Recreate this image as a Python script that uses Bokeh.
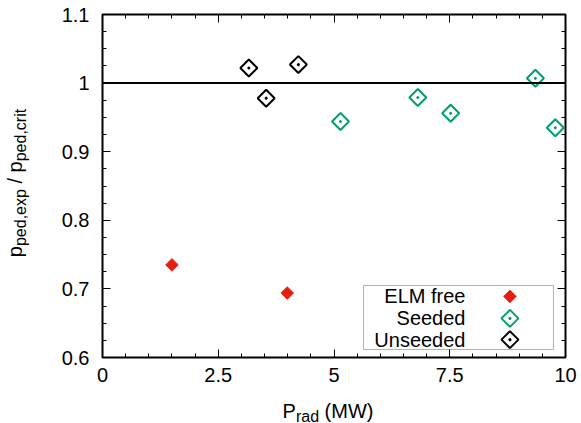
import numpy as np
from bokeh.plotting import figure
from bokeh.layouts import row, column
from bokeh.models import Range1d, FixedTicker, LinearAxis, Span, BoxAnnotation, Label
from bokeh.embed import file_html
from bokeh.resources import INLINE

# ---------------- data ----------------
elm_free_prad = [1.50, 3.99]
elm_free_ratio = [0.735, 0.694]
seeded_prad = [5.14, 6.81, 7.52, 9.35, 9.78]
seeded_ratio = [0.944, 0.979, 0.956, 1.007, 0.935]
unseeded_prad = [3.16, 3.535, 4.23]
unseeded_ratio = [1.022, 0.978, 1.027]
reference_ratio = 1.0

x_ticks = [0, 2.5, 5, 7.5, 10]
x_tick_labels = ["0", "2.5", "5", "7.5", "10"]
y_ticks = [0.6, 0.7, 0.8, 0.9, 1.0, 1.1]
y_tick_labels = ["0.6", "0.7", "0.8", "0.9", "1", "1.1"]
legend_labels = ["ELM free", "Seeded", "Unseeded"]

# ---------------- style ----------------
FONT = "Liberation Sans"
RED = "#e51e10"
GREEN = "#009e73"
TICK_FS = "20px"
LAB_FS = 20
SUB_FS = 16

x_minor = list(np.arange(0, 10.001, 0.5))
y_minor = list(np.round(np.arange(0.6, 1.1001, 0.025), 4))

CANVAS_W, CANVAS_H = 581, 423
FRAME_L, FRAME_R, FRAME_T, FRAME_B = 102, 565, 14, 357
YLAB_W = 36
MAIN_W, MAIN_H = CANVAS_W - YLAB_W, 397
XLAB_H = CANVAS_H - MAIN_H

p = figure(width=MAIN_W, height=MAIN_H, output_backend="svg", toolbar_location=None,
           x_range=Range1d(0, 10), y_range=Range1d(0.6, 1.1),
           min_border_left=FRAME_L - YLAB_W, min_border_right=CANVAS_W - FRAME_R,
           min_border_top=FRAME_T, min_border_bottom=MAIN_H - FRAME_B)
p.grid.visible = False
p.background_fill_color = "white"
p.border_fill_color = "white"
p.outline_line_color = "black"
p.outline_line_width = 2


def style_axis(ax, show_labels):
    ax.axis_line_color = None
    ax.major_tick_in = 8
    ax.major_tick_out = 0
    ax.minor_tick_in = 4
    ax.minor_tick_out = 0
    ax.major_tick_line_color = "black"
    ax.minor_tick_line_color = "black"
    ax.major_tick_line_width = 1
    ax.minor_tick_line_width = 1
    ax.major_label_text_font = FONT
    ax.major_label_text_color = "black"
    if show_labels:
        ax.major_label_text_font_size = TICK_FS
    else:
        ax.major_label_text_font_size = "1px"
        ax.major_label_standoff = 0


xa = p.xaxis[0]
xa.ticker = FixedTicker(ticks=x_ticks, minor_ticks=x_minor)
xa.major_label_overrides = {float(t): s for t, s in zip(x_ticks, x_tick_labels)}
style_axis(xa, True)
xa.major_label_standoff = 10

ya = p.yaxis[0]
ya.ticker = FixedTicker(ticks=y_ticks, minor_ticks=y_minor)
ya.major_label_overrides = {float(t): s for t, s in zip(y_ticks, y_tick_labels)}
style_axis(ya, True)
ya.major_label_standoff = 13

top = LinearAxis(ticker=FixedTicker(ticks=x_ticks, minor_ticks=x_minor))
top.major_label_overrides = {float(t): "" for t in x_ticks}
style_axis(top, False)
p.add_layout(top, "above")
right = LinearAxis(ticker=FixedTicker(ticks=y_ticks, minor_ticks=y_minor))
right.major_label_overrides = {float(t): "" for t in y_ticks}
style_axis(right, False)
p.add_layout(right, "right")

# reference line
p.add_layout(Span(location=reference_ratio, dimension="width",
                  line_color="black", line_width=2))

# data marks
OPEN_SIZE = 12
FILL_SIZE = 9
p.scatter(elm_free_prad, elm_free_ratio, marker="square", angle=np.pi / 4,
          size=FILL_SIZE, fill_color=RED, line_color=RED, line_width=0.8)
p.scatter(seeded_prad, seeded_ratio, marker="square_dot", angle=np.pi / 4,
          size=OPEN_SIZE, fill_color=None, line_color=GREEN, line_width=2)
p.scatter(unseeded_prad, unseeded_ratio, marker="square_dot", angle=np.pi / 4,
          size=OPEN_SIZE, fill_color=None, line_color="black", line_width=2)

# ---------------- legend (text right-aligned, key on the right) ----------------
leg_left, leg_right, leg_bottom, leg_top = 5.637, 9.74, 0.6117, 0.705
leg_text_x = 7.84
leg_key_x = 8.80
leg_rows = [0.689, 0.657, 0.626]
p.add_layout(BoxAnnotation(left=leg_left, right=leg_right, bottom=leg_bottom, top=leg_top,
                           fill_color=None, fill_alpha=0, line_color="black", line_width=1))
for txt, yy in zip(legend_labels, leg_rows):
    p.add_layout(Label(x=leg_text_x, y=yy, text=txt, text_align="right",
                       text_baseline="middle", text_font=FONT, text_font_size=TICK_FS,
                       text_color="black"))
p.scatter([leg_key_x], [leg_rows[0]], marker="square", angle=np.pi / 4, size=FILL_SIZE,
          fill_color=RED, line_color=RED, line_width=0.8)
p.scatter([leg_key_x], [leg_rows[1]], marker="square_dot", angle=np.pi / 4, size=OPEN_SIZE,
          fill_color=None, line_color=GREEN, line_width=2)
p.scatter([leg_key_x], [leg_rows[2]], marker="square_dot", angle=np.pi / 4, size=OPEN_SIZE,
          fill_color=None, line_color="black", line_width=2)

# ---------------- axis titles with subscripts (separate title panels) ----------------
W = {"p": 556, "e": 556, "d": 556, ",": 278, "x": 500, "c": 500, "r": 333, "i": 222,
     "t": 278, " ": 278, "/": 278, "P": 667, "a": 556, "(": 333, "M": 833, "W": 944,
     ")": 333}


def tw(s, fs):
    return sum(W.get(ch, 556) for ch in s) * fs / 1000.0


def blank_fig(w, h, xr, yr, bl, br, bt, bb):
    f = figure(width=w, height=h, output_backend="svg", toolbar_location=None,
               x_range=Range1d(*xr), y_range=Range1d(*yr),
               x_axis_location=None, y_axis_location=None,
               min_border_left=bl, min_border_right=br,
               min_border_top=bt, min_border_bottom=bb)
    f.grid.visible = False
    f.outline_line_color = None
    f.background_fill_color = "white"
    f.border_fill_color = "white"
    return f


SUB_DROP = 5.5
BASELINE_FIX = 6.0  # the label anchor sits this far below the drawn baseline
SPACE = tw(" ", LAB_FS)

# y title (rotated, reading upward); coordinates: x = canvas x, y = canvas height - canvas y
ylab = blank_fig(YLAB_W, CANVAS_H, (0, YLAB_W),
                 (CANVAS_H - FRAME_B, CANVAS_H - FRAME_T), 0, 0, FRAME_T, CANVAS_H - FRAME_B)
ypieces = [("p", LAB_FS, False, 0), ("ped,exp", SUB_FS, True, 0), ("/", LAB_FS, False, SPACE),
           ("p", LAB_FS, False, SPACE), ("ped,crit", SUB_FS, True, 0)]
total = sum(tw(t, f) + g for t, f, _, g in ypieces)
center_y = CANVAS_H - (FRAME_T + FRAME_B) / 2 + 3
ypos = center_y - total / 2
base_x = 20.5 - BASELINE_FIX
for t, f, sub, g in ypieces:
    ypos += g
    ylab.add_layout(Label(x=base_x + (SUB_DROP if sub else 0), y=ypos, text=t,
                          angle=90, angle_units="deg", text_align="left",
                          text_baseline="alphabetic", text_font=FONT,
                          text_font_size=f"{f}px", text_color="black"))
    ypos += tw(t, f)

# x title; coordinates: x = canvas x, y = canvas height - canvas y
xlab = blank_fig(MAIN_W, XLAB_H, (FRAME_L, FRAME_R), (0, XLAB_H),
                 FRAME_L - YLAB_W, CANVAS_W - FRAME_R, 0, 0)
xpieces = [("P", LAB_FS, False, 0), ("rad", SUB_FS, True, 0), ("(MW)", LAB_FS, False, SPACE)]
total = sum(tw(t, f) + g for t, f, _, g in xpieces)
xpos = 327.5 - total / 2
base_y = (CANVAS_H - 416) + BASELINE_FIX
for t, f, sub, g in xpieces:
    xpos += g
    xlab.add_layout(Label(x=xpos, y=base_y - (SUB_DROP if sub else 0), text=t,
                          text_align="left", text_baseline="alphabetic",
                          text_font=FONT, text_font_size=f"{f}px", text_color="black"))
    xpos += tw(t, f)

layout = row(ylab, column(p, xlab, spacing=0), spacing=0)
open("out.html", "w").write(file_html(layout, INLINE))
